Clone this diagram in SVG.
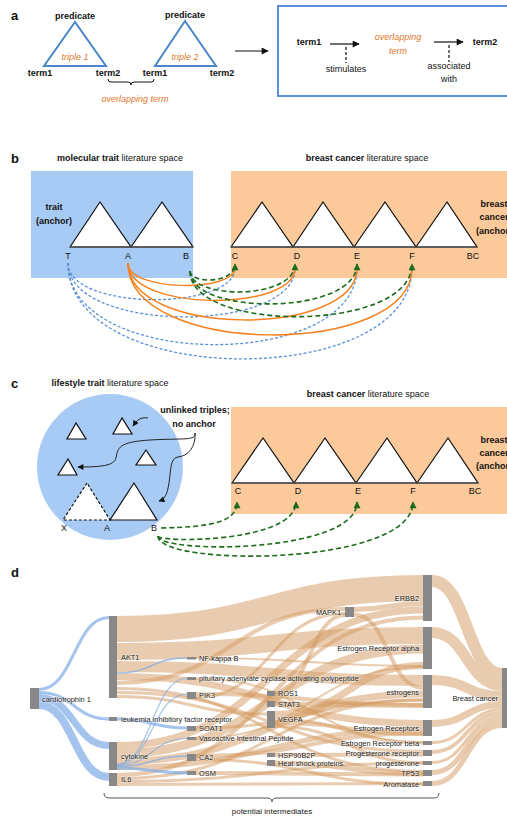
<svg xmlns="http://www.w3.org/2000/svg" width="507" height="818" viewBox="0 0 507 818">
<style>
text{font-family:"Liberation Sans",Arial,sans-serif;font-size:9px;fill:#111}
.b{font-weight:bold}
.it{font-style:italic;fill:#e0782c}
.pl{font-size:13px;font-weight:bold}
.m{text-anchor:middle}
.e{text-anchor:end}
.d{font-size:7.4px;fill:#222;stroke:#fff;stroke-width:1.2px;stroke-opacity:.5;paint-order:stroke}
.pi{font-size:8px;fill:#222}
.tri{fill:#fff;stroke:#111;stroke-width:1.2}
.btri{fill:none;stroke:#4a86c8;stroke-width:2}
.base{stroke:#555;stroke-width:1.6}
.gr{fill:none;stroke:#1d6b1d;stroke-width:1.6;stroke-dasharray:5 3}
.or{fill:none;stroke:#f5821f;stroke-width:1.5}
.bl{fill:none;stroke:#5b8fd4;stroke-width:1.3;stroke-dasharray:3 2}
.of{fill:none;stroke:#d49a5f;stroke-opacity:.5}
.bf{fill:none;stroke:#7eaae6;stroke-opacity:.7}
.nd{fill:#888}
</style>
<defs>
<marker id="ah" viewBox="0 0 10 10" refX="9" refY="5" markerUnits="userSpaceOnUse" markerWidth="8" markerHeight="7" orient="auto"><path d="M0,0 L10,5 L0,10 z" fill="#111"/></marker>
<marker id="ga" viewBox="0 0 10 10" refX="9" refY="5" markerUnits="userSpaceOnUse" markerWidth="9" markerHeight="7" orient="auto"><path d="M0,0 L10,5 L0,10 z" fill="#1d6b1d"/></marker>
<marker id="ka" viewBox="0 0 10 10" refX="9" refY="5" markerUnits="userSpaceOnUse" markerWidth="7" markerHeight="6" orient="auto"><path d="M0,0 L10,5 L0,10 z" fill="#111"/></marker>
</defs>

<!-- Panel a -->
<g id="panel-a">
<text x="11" y="20" class="pl">a</text>
<g id="triple1">
<polygon class="btri" points="75,22 44,66 106,66"/>
<text x="75" y="19" class="b m">predicate</text>
<text x="75" y="60" class="it m">triple 1</text>
<text x="40" y="76" class="b m">term1</text>
<text x="108" y="76" class="b m">term2</text>
</g>
<g id="triple2">
<polygon class="btri" points="185,21 155,66 216,66"/>
<text x="185" y="18" class="b m">predicate</text>
<text x="185" y="60" class="it m">triple 2</text>
<text x="155" y="76" class="b m">term1</text>
<text x="222" y="76" class="b m">term2</text>
</g>
<path d="M108,79 Q108,82 111,82 L128,82 Q131,82 131,85 Q131,82 134,82 L151,82 Q154,82 154,79" fill="none" stroke="#111" stroke-width="1"/>
<text x="135" y="102" class="it m">overlapping term</text>
<line x1="235" y1="51" x2="268" y2="51" stroke="#111" stroke-width="1.2" marker-end="url(#ah)"/>
<g id="chain-box">
<rect x="278" y="6" width="240" height="90" fill="none" stroke="#5b8fd8" stroke-width="2"/>
<text x="309" y="45" class="b m">term1</text>
<line x1="330" y1="44" x2="359" y2="44" stroke="#111" stroke-width="1.2" marker-end="url(#ah)"/>
<line x1="346" y1="47" x2="346" y2="63" stroke="#111" stroke-width="1.2" stroke-dasharray="3 2"/>
<text x="346" y="72" class="m">stimulates</text>
<text x="398" y="40" class="it m">overlapping</text>
<text x="398" y="54" class="it m">term</text>
<line x1="434" y1="42" x2="463" y2="42" stroke="#111" stroke-width="1.2" marker-end="url(#ah)"/>
<line x1="449" y1="45" x2="449" y2="62" stroke="#111" stroke-width="1.2" stroke-dasharray="3 2"/>
<text x="449" y="69" class="m">associated</text>
<text x="449" y="82" class="m">with</text>
<text x="485" y="45" class="b m">term2</text>
</g>
</g>

<!-- Panel b -->
<g id="panel-b">
<text x="11" y="163" class="pl">b</text>
<text x="120" y="161" class="m"><tspan class="b">molecular trait</tspan> literature space</text>
<text x="367" y="161" class="m"><tspan class="b">breast cancer</tspan> literature space</text>
<g id="b-molecular-space">
<rect x="31" y="171" width="162" height="107" fill="#a8cbf6"/>
<polygon class="tri" points="70,247 100,202 131,247"/>
<polygon class="tri" points="131,247 162,202 193,247"/>
<line class="base" x1="70" y1="247" x2="193" y2="247"/>
<text x="54" y="210" class="b m">trait</text>
<text x="54" y="224" class="b m">(anchor)</text>
<text x="68" y="259" class="m">T</text>
<text x="128" y="259" class="m">A</text>
<text x="186" y="259" class="m">B</text>
</g>
<g id="b-breast-space">
<rect x="231" y="171" width="280" height="107" fill="#fcc99a"/>
<polygon class="tri" points="231,247 262,202 293,247"/>
<polygon class="tri" points="293,247 323,202 354,247"/>
<polygon class="tri" points="354,247 385,202 416,247"/>
<polygon class="tri" points="416,247 447,202 477,247"/>
<line class="base" x1="231" y1="247" x2="477" y2="247"/>
<text x="235" y="259" class="m">C</text>
<text x="297" y="259" class="m">D</text>
<text x="357" y="259" class="m">E</text>
<text x="412" y="259" class="m">F</text>
<text x="473" y="259" class="m">BC</text>
<text x="494" y="207" class="b m">breast</text>
<text x="494" y="220" class="b m">cancer</text>
<text x="494" y="234" class="b m">(anchor)</text>
</g>
<g id="b-connectors">
<path class="bl" d="M68,263 C68,311 235,311 235,268"/>
<path class="bl" d="M68,263 C68,334 295,334 295,268"/>
<path class="bl" d="M68,263 C68,371 357,371 357,268"/>
<path class="bl" d="M68,263 C68,390 412,390 412,268"/>
<path class="or" d="M128,263 C128,292 235,292 235,268"/>
<path class="or" d="M128,263 C128,312 295,312 295,268"/>
<path class="or" d="M128,263 C128,338 357,338 357,268"/>
<path class="or" d="M128,263 C128,358 412,358 412,268"/>
<path class="gr" d="M190,271 C190,284 235,284 235,264" marker-end="url(#ga)"/>
<path class="gr" d="M190,271 C190,300 295,300 295,264" marker-end="url(#ga)"/>
<path class="gr" d="M190,271 C190,316 357,316 357,264" marker-end="url(#ga)"/>
<path class="gr" d="M190,271 C190,333 412,333 412,264" marker-end="url(#ga)"/>
</g>
</g>

<!-- Panel c -->
<g id="panel-c">
<text x="11" y="388" class="pl">c</text>
<text x="110" y="386" class="m"><tspan class="b">lifestyle trait</tspan> literature space</text>
<text x="368" y="397" class="m"><tspan class="b">breast cancer</tspan> literature space</text>
<g id="c-lifestyle-space">
<circle cx="110" cy="467" r="73" fill="#a8cbf6"/>
<polygon class="tri" points="76,423 67,439 86,439"/>
<polygon class="tri" points="122,418 113,434 132,434"/>
<polygon class="tri" points="68,459 58,475 77,475"/>
<polygon class="tri" points="146,450 136,465 156,465"/>
<polygon points="87,483 63,520 110,520" fill="#fff" stroke="#111" stroke-width="1.2" stroke-dasharray="3 2"/>
<polygon class="tri" points="134,483 110,520 157,520"/>
<text x="64" y="531" class="m">X</text>
<text x="107" y="531" class="m">A</text>
<text x="154" y="531" class="m">B</text>
<text x="195" y="413" class="b m">unlinked triples;</text>
<text x="194" y="427" class="b m">no anchor</text>
<path d="M148,418 C140,417 137,420 133,426" fill="none" stroke="#111" stroke-width="0.9" marker-end="url(#ka)"/>
<path d="M195,433 C196,441 185,438 150,440 C118,442 118,448 116,458 C114,466 100,467 78,467" fill="none" stroke="#111" stroke-width="0.9" marker-end="url(#ka)"/>
<path d="M195,433 C196,447 188,456 178,457 C170,458 171,470 169,483 C167,495 165,499 159,501" fill="none" stroke="#111" stroke-width="0.9" marker-end="url(#ka)"/>
</g>
<g id="c-breast-space">
<rect x="231" y="407" width="280" height="107" fill="#fcc99a"/>
<polygon class="tri" points="232,483 263,438 294,483"/>
<polygon class="tri" points="294,483 325,438 356,483"/>
<polygon class="tri" points="356,483 387,438 417,483"/>
<polygon class="tri" points="417,483 448,438 478,483"/>
<line class="base" x1="232" y1="483" x2="478" y2="483"/>
<text x="238" y="494" class="m">C</text>
<text x="298" y="494" class="m">D</text>
<text x="358" y="494" class="m">E</text>
<text x="413" y="494" class="m">F</text>
<text x="475" y="494" class="m">BC</text>
<text x="494" y="443" class="b m">breast</text>
<text x="494" y="456" class="b m">cancer</text>
<text x="494" y="469" class="b m">(anchor)</text>
</g>
<g id="c-connectors">
<path class="gr" d="M161,528 C212,527 237,522 237,502" marker-end="url(#ga)"/>
<path class="gr" d="M158,536 C158,543 296,543 296,502" marker-end="url(#ga)"/>
<path class="gr" d="M158,536 C158,554 357,554 357,502" marker-end="url(#ga)"/>
<path class="gr" d="M158,536 C158,567 413,567 413,502" marker-end="url(#ga)"/>
</g>
</g>

<!-- Panel d -->
<g id="panel-d">
<text x="11" y="577" class="pl">d</text>
<g id="flows">
<path class="of" stroke-width="26" d="M117,629 C270,629 270,588 423,588"/>
<path class="of" stroke-width="17" d="M117,651.5 C270,651.5 270,635.5 423,635.5"/>
<path class="of" stroke-width="11" d="M117,666.5 C270,666.5 270,680.5 423,680.5"/>
<path class="of" stroke-width="7" d="M117,676.5 C270,676.5 270,723.5 423,723.5"/>
<path class="of" stroke-width="4" d="M117,683 C231,683 231,609 345,609"/>
<path class="of" stroke-width="3" d="M117,688.5 C270,688.5 270,771.5 423,771.5"/>
<path class="of" stroke-width="3" d="M117,692.5 C270,692.5 270,751.5 423,751.5"/>
<path class="of" stroke-width="3" d="M117,696.5 C192,696.5 192,714 267,714"/>
<path class="of" stroke-width="7" d="M117,745.5 C270,745.5 270,610 423,610"/>
<path class="of" stroke-width="9" d="M117,753.5 C270,753.5 270,649 423,649"/>
<path class="of" stroke-width="7" d="M117,761.5 C270,761.5 270,694 423,694"/>
<path class="of" stroke-width="5" d="M117,767.5 C270,767.5 270,729.5 423,729.5"/>
<path class="of" stroke-width="4" d="M117,775 C270,775 270,617.5 423,617.5"/>
<path class="of" stroke-width="3" d="M117,778.5 C270,778.5 270,700 423,700"/>
<path class="of" stroke-width="3" d="M117,781.5 C270,781.5 270,763 423,763"/>
<path class="of" stroke-width="3" d="M117,784.5 C270,784.5 270,783.5 423,783.5"/>
<path class="of" stroke-width="2" d="M196,658 C310,658 310,666 423,666"/>
<path class="of" stroke-width="2" d="M196,678.5 C310,678.5 310,742 423,742"/>
<path class="of" stroke-width="4" d="M196,694 C310,694 310,705 423,705"/>
<path class="of" stroke-width="3" d="M196,697.5 C270,697.5 270,613.5 345,613.5"/>
<path class="of" stroke-width="3" d="M196,728 C310,728 310,700 423,700"/>
<path class="of" stroke-width="2" d="M196,738.5 C310,738.5 310,667 423,667"/>
<path class="of" stroke-width="4" d="M196,756 C310,756 310,733.5 423,733.5"/>
<path class="of" stroke-width="3" d="M196,759.5 C310,759.5 310,784.5 423,784.5"/>
<path class="of" stroke-width="4" d="M196,773 C310,773 310,774.5 423,774.5"/>
<path class="of" stroke-width="4" d="M275,693.5 C310,693.5 310,615 345,615"/>
<path class="of" stroke-width="5" d="M275,704 C349,704 349,705.5 423,705.5"/>
<path class="of" stroke-width="7" d="M275,714.5 C349,714.5 349,665.5 423,665.5"/>
<path class="of" stroke-width="3" d="M275,719.5 C349,719.5 349,743 423,743"/>
<path class="of" stroke-width="4" d="M275,723 C349,723 349,734 423,734"/>
<path class="of" stroke-width="3" d="M275,726.5 C349,726.5 349,763 423,763"/>
<path class="of" stroke-width="4" d="M275,755 C349,755 349,754.5 423,754.5"/>
<path class="of" stroke-width="5" d="M275,763 C349,763 349,773.5 423,773.5"/>
<path class="of" stroke-width="5" d="M354,609.5 C388,609.5 388,603.5 423,603.5"/>
<path class="of" stroke-width="4" d="M354,614.5 C388,614.5 388,688 423,688"/>
<path class="of" stroke-width="12" d="M432,581 C467,581 467,674 502,674"/>
<path class="of" stroke-width="11" d="M432,632.5 C467,632.5 467,685.5 502,685.5"/>
<path class="of" stroke-width="10" d="M432,680 C467,680 467,696 502,696"/>
<path class="of" stroke-width="7" d="M432,723.5 C467,723.5 467,704.5 502,704.5"/>
<path class="of" stroke-width="3" d="M432,742.5 C467,742.5 467,709.5 502,709.5"/>
<path class="of" stroke-width="4" d="M432,752 C467,752 467,713 502,713"/>
<path class="of" stroke-width="3" d="M432,762.5 C467,762.5 467,716.5 502,716.5"/>
<path class="of" stroke-width="5" d="M432,772.5 C467,772.5 467,720.5 502,720.5"/>
<path class="of" stroke-width="5" d="M432,783.5 C467,783.5 467,725.5 502,725.5"/>
<path class="bf" stroke-width="3" d="M39,689.5 C74,689.5 74,617.5 109,617.5"/>
<path class="bf" stroke-width="3" d="M39,692.5 C74,692.5 74,719 109,719"/>
<path class="bf" stroke-width="7" d="M39,697.5 C74,697.5 74,745.5 109,745.5"/>
<path class="bf" stroke-width="8" d="M39,705 C74,705 74,777 109,777"/>
<path class="bf" stroke-width="3" d="M117,719 C152,719 152,728 187,728"/>
<path class="bf" stroke-width="1.5" d="M117,673 C152,673 152,658 187,658"/>
<path class="bf" stroke-width="1.2" d="M117,764 C152,764 152,678.5 187,678.5"/>
<path class="bf" stroke-width="1.2" d="M117,765 C152,765 152,694 187,694"/>
<path class="bf" stroke-width="1.2" d="M117,765.5 C152,765.5 152,738.5 187,738.5"/>
<path class="bf" stroke-width="1.5" d="M117,766.5 C152,766.5 152,756 187,756"/>
<path class="bf" stroke-width="3" d="M117,768 C152,768 152,773 187,773"/>
</g>
<g id="n-cardiotrophin"><rect class="nd" x="30" y="688" width="9" height="21"/><text x="42" y="702" class="d">cardiotrophin 1</text></g>
<g id="n-akt1"><rect class="nd" x="109" y="616" width="8" height="82"/><text x="121" y="660" class="d">AKT1</text></g>
<g id="n-lifr"><rect class="nd" x="109" y="717" width="8" height="4"/><text x="121" y="722" class="d">leukemia inhibitory factor receptor</text></g>
<g id="n-cytokine"><rect class="nd" x="109" y="742" width="8" height="28"/><text x="121" y="759" class="d">cytokine</text></g>
<g id="n-il6"><rect class="nd" x="109" y="773" width="8" height="13"/><text x="121" y="782" class="d">IL6</text></g>
<g id="n-nfkb"><rect class="nd" x="187" y="657" width="9" height="2.5"/><text x="199" y="661" class="d">NF-kappa B</text></g>
<g id="n-pacap"><rect class="nd" x="187" y="677" width="9" height="3"/><text x="199" y="681" class="d">pituitary adenylate cyclase activating polypeptide</text></g>
<g id="n-pik3"><rect class="nd" x="187" y="692" width="9" height="7"/><text x="199" y="698" class="d">PIK3</text></g>
<g id="n-soat1"><rect class="nd" x="187" y="726" width="9" height="5"/><text x="199" y="731" class="d">SOAT1</text></g>
<g id="n-vip"><rect class="nd" x="187" y="737" width="9" height="3"/><text x="199" y="741" class="d">Vasoactive Intestinal Peptide</text></g>
<g id="n-ca2"><rect class="nd" x="187" y="754" width="9" height="7"/><text x="199" y="760" class="d">CA2</text></g>
<g id="n-osm"><rect class="nd" x="187" y="771" width="9" height="4"/><text x="199" y="776" class="d">OSM</text></g>
<g id="n-ros1"><rect class="nd" x="267" y="691" width="8" height="5"/><text x="278" y="696" class="d">ROS1</text></g>
<g id="n-stat3"><rect class="nd" x="267" y="701" width="8" height="6"/><text x="278" y="707" class="d">STAT3</text></g>
<g id="n-vegfa"><rect class="nd" x="267" y="711" width="8" height="17"/><text x="278" y="722" class="d">VEGFA</text></g>
<g id="n-hsp90b2p"><rect class="nd" x="267" y="753" width="8" height="4"/><text x="278" y="758" class="d">HSP90B2P</text></g>
<g id="n-hsp"><rect class="nd" x="267" y="760" width="8" height="6"/><text x="278" y="766" class="d">Heat shock proteins</text></g>
<g id="n-mapk1"><rect class="nd" x="345" y="607" width="9" height="10"/><text x="341" y="615" class="d e">MAPK1</text></g>
<g id="n-erbb2"><rect class="nd" x="423" y="575" width="9" height="46"/><text x="419" y="601" class="d e">ERBB2</text></g>
<g id="n-era"><rect class="nd" x="423" y="627" width="9" height="42"/><text x="419" y="651" class="d e">Estrogen Receptor alpha</text></g>
<g id="n-estrogens"><rect class="nd" x="423" y="675" width="9" height="33"/><text x="419" y="694.5" class="d e">estrogens</text></g>
<g id="n-ers"><rect class="nd" x="423" y="720" width="9" height="16"/><text x="419" y="731" class="d e">Estrogen Receptors</text></g>
<g id="n-erb"><rect class="nd" x="423" y="741" width="9" height="4"/><text x="419" y="746" class="d e">Estrogen Receptor beta</text></g>
<g id="n-pr"><rect class="nd" x="423" y="750" width="9" height="6"/><text x="419" y="756" class="d e">Progesterone receptor</text></g>
<g id="n-prog"><rect class="nd" x="423" y="761" width="9" height="4"/><text x="419" y="766" class="d e">progesterone</text></g>
<g id="n-tp53"><rect class="nd" x="423" y="770" width="9" height="6"/><text x="419" y="776" class="d e">TP53</text></g>
<g id="n-aromatase"><rect class="nd" x="423" y="781" width="9" height="5"/><text x="419" y="787" class="d e">Aromatase</text></g>
<g id="n-bc"><rect class="nd" x="502" y="668" width="9" height="60"/><text x="498" y="701" class="d e">Breast cancer</text></g>
<path d="M104,793 Q104,798 109,798 L267,798 Q272,798 272,802 Q272,798 277,798 L434,798 Q439,798 439,793" fill="none" stroke="#555" stroke-width="1"/>
<text x="272" y="814" class="m pi">potential intermediates</text>
</g>
</svg>
